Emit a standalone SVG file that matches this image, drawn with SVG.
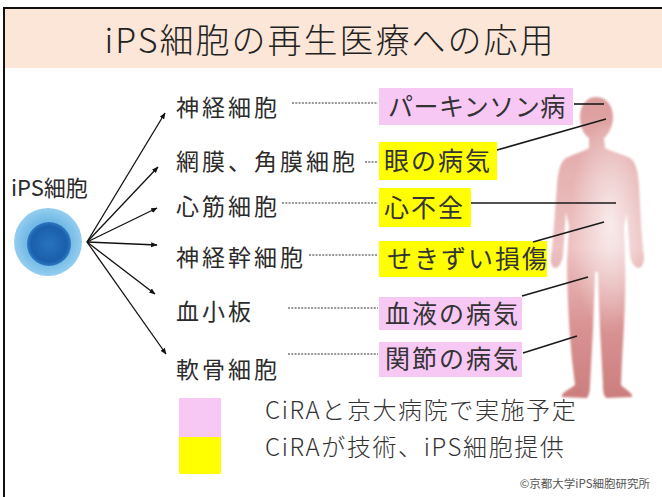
<svg xmlns="http://www.w3.org/2000/svg" width="662" height="497" viewBox="0 0 662 497">
  <style>
    .jp { font-family: "Noto Sans CJK JP", "Noto Sans", sans-serif; }
    .title { font-size: 34px; fill: #222; font-weight: 300; letter-spacing: 2px; }
    .label { font-size: 23px; fill: #2b2b2b; letter-spacing: 3px; }
    .box-text { font-size: 25px; fill: #333; }
    .legend-text { font-size: 24px; fill: #333; font-weight: 300; letter-spacing: 1.6px; }
    .arrow { stroke: #111; stroke-width: 1.3; fill: none; marker-end: url(#arrowhead); }
    .dots { stroke: #333; stroke-width: 1; stroke-dasharray: 2 1.3; fill: none; }
    .leader { stroke: #1a1a1a; stroke-width: 1.6; fill: none; }
    .pink { fill: #f8c8f5; }
    .yellow { fill: #ffff00; }
  </style>
  <defs>
    <marker id="arrowhead" viewBox="0 0 10 10" refX="9" refY="5" markerWidth="5" markerHeight="5" orient="auto" markerUnits="strokeWidth">
      <path d="M0,1 L10,5 L0,9 Z" fill="#111"/>
    </marker>
    <radialGradient id="cellOuter" cx="0.5" cy="0.5" r="0.5">
      <stop offset="0" stop-color="#4f9fd8"/>
      <stop offset="0.7" stop-color="#78bde8"/>
      <stop offset="1" stop-color="#94cef0"/>
    </radialGradient>
    <radialGradient id="cellInner" cx="0.5" cy="0.5" r="0.5">
      <stop offset="0" stop-color="#2873bd"/>
      <stop offset="0.8" stop-color="#1a5fab"/>
      <stop offset="1" stop-color="#2c78c2"/>
    </radialGradient>
    <linearGradient id="skin" x1="0" y1="0" x2="0" y2="1">
      <stop offset="0" stop-color="#dc9c9c"/>
      <stop offset="0.25" stop-color="#e6b2b2"/>
      <stop offset="0.5" stop-color="#edc2c2"/>
      <stop offset="0.75" stop-color="#da9494"/>
      <stop offset="1" stop-color="#cc7e7e"/>
    </linearGradient>
    <radialGradient id="skinLight" cx="0.55" cy="0.45" r="0.5">
      <stop offset="0" stop-color="#ffffff" stop-opacity="0.7"/>
      <stop offset="0.6" stop-color="#ffffff" stop-opacity="0.28"/>
      <stop offset="1" stop-color="#ffffff" stop-opacity="0"/>
    </radialGradient>
    <clipPath id="bodyClip">
      <path id="bodyShape" d="M596 97 C607 97 613 106 613 117 C613 127 608 135 604 138 L605 148 C612 152 622 154 630 158 C636 162 638 172 639 185 L641 225 L643 250 C645 258 644 266 639 268 C634 268 631 262 630 255 L627 212 L624 226 L625 262 C626 290 624 330 622 360 L621 385 C626 390 633 393 632 397 L606 398 C603 394 603 390 603 385 L600 330 L598 272 L595 272 L593 330 L590 385 C590 391 589 395 587 398 L562 397 C561 393 568 390 575 385 L572 360 C569 330 567 290 567 262 L569 226 L566 212 L563 255 C562 262 559 268 555 268 C550 267 550 258 552 250 L554 225 L557 185 C558 172 560 162 566 158 C574 154 582 152 589 148 L589 138 C584 135 580 127 580 117 C580 106 586 97 596 97 Z"/>
    </clipPath>
    <filter id="soft" x="-10%" y="-10%" width="120%" height="120%">
      <feGaussianBlur stdDeviation="0.8"/>
    </filter>
  </defs>

  <!-- page -->
  <rect x="0" y="0" width="662" height="497" fill="#ffffff"/>
  <g id="title">
    <rect x="4" y="8" width="662" height="60" fill="#fbe6d8"/>
    <text class="jp title" x="330" y="53" text-anchor="middle">iPS細胞の再生医療への応用</text>
  </g>
  <rect x="4" y="8" width="700" height="600" fill="none" stroke="#111" stroke-width="2"/>

  <!-- source cell -->
  <g id="ips-cell">
    <text class="jp" x="11" y="196" font-size="22" fill="#2b2b2b">iPS細胞</text>
    <circle cx="48" cy="242" r="34" fill="url(#cellOuter)"/>
    <circle cx="49" cy="244" r="22" fill="url(#cellInner)"/>
  </g>

  <!-- differentiated cell types -->
  <g id="cell-neuron"><text class="jp label" x="176" y="116">神経細胞</text></g>
  <g id="cell-retina"><text class="jp label" x="176" y="170" letter-spacing="4">網膜、角膜細胞</text></g>
  <g id="cell-cardio"><text class="jp label" x="176" y="215">心筋細胞</text></g>
  <g id="cell-nsc"><text class="jp label" x="176" y="266">神経幹細胞</text></g>
  <g id="cell-platelet"><text class="jp label" x="176" y="320">血小板</text></g>
  <g id="cell-cartilage"><text class="jp label" x="176" y="378">軟骨細胞</text></g>

  <!-- target diseases -->
  <g id="dis-parkinson">
    <rect class="pink" x="379" y="88" width="194" height="37"/>
    <text class="jp box-text" x="388" y="116" letter-spacing="0.5">パーキンソン病</text>
  </g>
  <g id="dis-eye">
    <rect class="yellow" x="379" y="142" width="118" height="38"/>
    <text class="jp box-text" x="384" y="170" letter-spacing="2">眼の病気</text>
  </g>
  <g id="dis-heart">
    <rect class="yellow" x="379" y="188" width="92" height="39"/>
    <text class="jp box-text" x="384" y="217" letter-spacing="2">心不全</text>
  </g>
  <g id="dis-spine">
    <rect class="yellow" x="379" y="241" width="168" height="36"/>
    <text class="jp box-text" x="387" y="268" letter-spacing="2">せきずい損傷</text>
  </g>
  <g id="dis-blood">
    <rect class="pink" x="379" y="297" width="143" height="33"/>
    <text class="jp box-text" x="385" y="323" letter-spacing="2">血液の病気</text>
  </g>
  <g id="dis-joint">
    <rect class="pink" x="379" y="342" width="143" height="35"/>
    <text class="jp box-text" x="385" y="368" letter-spacing="2">関節の病気</text>
  </g>

  <!-- human figure -->
  <g id="body" filter="url(#soft)">
    <use href="#bodyShape" fill="url(#skin)"/>
    <g clip-path="url(#bodyClip)">
      <ellipse cx="606" cy="235" rx="40" ry="110" fill="url(#skinLight)"/>
    </g>
  </g>

  <!-- connectors -->
  <g id="connectors">
    <g id="arrows">
      <line class="arrow" x1="87" y1="242" x2="165" y2="113"/>
      <line class="arrow" x1="87" y1="242" x2="158" y2="167"/>
      <line class="arrow" x1="87" y1="242" x2="157" y2="208"/>
      <line class="arrow" x1="87" y1="242" x2="157" y2="245"/>
      <line class="arrow" x1="87" y1="242" x2="155" y2="294"/>
      <line class="arrow" x1="87" y1="242" x2="166" y2="354"/>
    </g>
    <g id="dotted-links">
      <line class="dots" x1="292" y1="103" x2="378" y2="103"/>
      <line class="dots" x1="365" y1="162" x2="378" y2="162"/>
      <line class="dots" x1="282" y1="203" x2="378" y2="203"/>
      <line class="dots" x1="309" y1="255" x2="378" y2="255"/>
      <line class="dots" x1="288" y1="308" x2="378" y2="308"/>
      <line class="dots" x1="288" y1="354" x2="378" y2="354"/>
    </g>
    <g id="body-leaders">
      <line class="leader" x1="574" y1="104" x2="604" y2="104"/>
      <line class="leader" x1="497" y1="150" x2="606" y2="119"/>
      <line class="leader" x1="471" y1="203" x2="616" y2="203"/>
      <line class="leader" x1="533" y1="242" x2="604" y2="222"/>
      <line class="leader" x1="522" y1="296" x2="588" y2="277"/>
      <line class="leader" x1="523" y1="353" x2="577" y2="336"/>
    </g>
  </g>

  <!-- legend -->
  <g id="legend">
    <rect class="pink" x="179" y="398" width="42" height="39"/>
    <rect class="yellow" x="179" y="437" width="42" height="37"/>
    <text class="jp legend-text" x="265" y="419">CiRAと京大病院で実施予定</text>
    <text class="jp legend-text" x="265" y="456" letter-spacing="1.2">CiRAが技術、iPS細胞提供</text>
  </g>

  <g id="credit">
    <text class="jp" x="650" y="488" font-size="11.5" fill="#555" text-anchor="end">©京都大学iPS細胞研究所</text>
  </g>
</svg>
